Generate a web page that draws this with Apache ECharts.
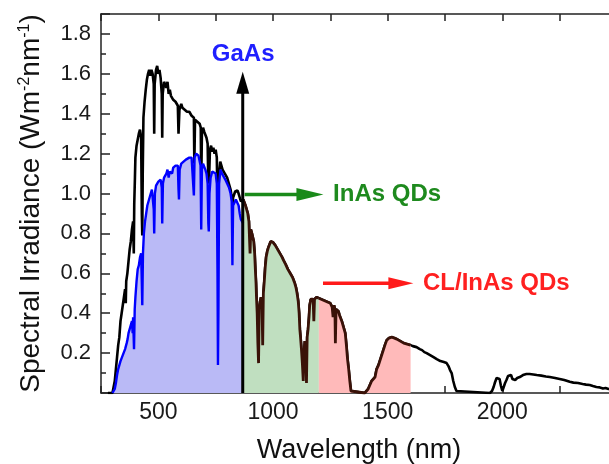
<!DOCTYPE html>
<html>
<head>
<meta charset="utf-8">
<script src="https://cdn.jsdelivr.net/npm/echarts@6.0.0/dist/echarts.min.js"></script>
<style>
html, body { margin: 0; padding: 0; background: #fff; }
#chart { width: 609px; height: 464px; }
</style>
</head>
<body>
<div id="chart"></div>
<script>
// tick labels
const xLabels = [500, 1000, 1500, 2000];
const yLabels = [0.2, 0.4, 0.6, 0.8, 1.0, 1.2, 1.4, 1.6, 1.8];

// band edges (nm)
const gaasEdge = 870;
const inasEdge = 1200;
const clEdge = 1600;

// black spectrum [nm, W m-2 nm-1]
const blackSpectrum = [
    [280,0],[300,0],[305,0.01],[310,0.06],[315,0.12],[320,0.18],[325,0.24],[330,0.28],[335,0.36],[340,0.40],
    [345,0.44],[350,0.48],[355,0.52],[358,0.45],[360,0.56],[365,0.60],[370,0.66],[375,0.72],[380,0.76],[385,0.82],
    [390,0.86],[393,0.70],[395,0.95],[398,1.08],[400,1.18],[405,1.24],[410,1.27],[415,1.30],[420,1.32],[425,1.28],
    [428,0.90],[430,0.79],[432,1.10],[435,1.38],[440,1.46],[445,1.52],[450,1.57],[455,1.60],[460,1.62],[465,1.59],
    [470,1.62],[475,1.60],[480,1.55],[482,1.30],[484,1.55],[490,1.62],[495,1.64],[500,1.60],[505,1.62],[510,1.58],
    [515,1.50],[517,1.28],[519,1.50],[525,1.56],[530,1.55],[535,1.53],[540,1.56],[545,1.50],[550,1.52],[555,1.49],
    [560,1.50],[565,1.47],[570,1.48],[575,1.46],[580,1.45],[585,1.44],[588,1.30],[590,1.29],[592,1.42],[600,1.45],
    [605,1.43],[610,1.44],[615,1.42],[620,1.43],[625,1.41],[630,1.40],[635,1.41],[640,1.40],[645,1.39],[650,1.40],
    [655,1.38],[657,1.15],[660,1.37],[665,1.38],[670,1.36],[675,1.37],[680,1.35],[685,1.33],[687,1.05],[690,1.30],
    [695,1.33],[700,1.31],[705,1.30],[710,1.28],[715,1.25],[718,1.05],[722,1.10],[725,1.22],[730,1.24],[735,1.21],
    [740,1.23],[745,1.20],[750,1.22],[755,1.18],[758,0.95],[762,0.80],[765,1.10],[770,1.16],[775,1.14],[780,1.12],
    [785,1.13],[790,1.10],[795,1.11],[800,1.08],[805,1.06],[810,1.04],[815,1.02],[820,0.98],[823,0.92],[826,0.98],
    [830,0.99],[835,1.01],[840,1.02],[845,1.015],[850,1.00],[855,0.98],[860,0.96],[865,0.95],[870,0.97],
    [875,0.96],[880,0.94],[885,0.92],[890,0.90],[895,0.86],[898,0.76],[900,0.70],[903,0.82],[908,0.80],[912,0.79],
    [916,0.76],[920,0.70],[923,0.62],[926,0.55],[928,0.48],[931,0.40],[934,0.25],[937,0.15],[940,0.42],[944,0.46],
    [948,0.48],[952,0.45],[955,0.24],[958,0.50],[962,0.56],[966,0.63],[970,0.68],[975,0.71],[980,0.73],[985,0.74],
    [990,0.76],[995,0.76],[1000,0.755],[1005,0.75],[1010,0.74],[1018,0.73],[1025,0.71],[1032,0.70],[1040,0.68],[1046,0.665],
    [1055,0.645],[1065,0.62],[1075,0.60],[1085,0.58],[1095,0.55],[1100,0.53],[1105,0.50],[1110,0.46],[1114,0.40],[1117,0.32],
    [1120,0.28],[1124,0.22],[1128,0.15],[1132,0.06],[1135,0.20],[1139,0.26],[1143,0.22],[1146,0.05],[1149,0.28],[1153,0.32],
    [1157,0.38],[1160,0.44],[1165,0.47],[1170,0.48],[1175,0.47],[1178,0.36],[1181,0.47],[1190,0.48],[1200,0.475],[1210,0.47],
    [1220,0.465],[1230,0.46],[1240,0.455],[1250,0.45],[1258,0.43],[1262,0.38],[1266,0.44],[1270,0.42],[1272,0.25],[1275,0.42],
    [1280,0.43],[1285,0.41],[1290,0.39],[1295,0.375],[1300,0.36],[1305,0.34],[1310,0.32],[1315,0.30],[1320,0.24],[1325,0.17],
    [1330,0.12],[1335,0.06],[1340,0.01],[1345,0],[1400,0],[1408,0.005],[1415,0.02],[1423,0.03],[1430,0.06],[1437,0.05],
    [1445,0.08],[1452,0.12],[1460,0.14],[1467,0.165],[1474,0.19],[1481,0.215],[1488,0.24],[1496,0.265],[1505,0.275],[1518,0.28],
    [1530,0.275],[1540,0.27],[1547,0.27],[1555,0.26],[1562,0.265],[1570,0.25],[1576,0.25],[1585,0.245],[1592,0.24],[1600,0.24],
    [1610,0.235],[1626,0.23],[1640,0.22],[1650,0.215],[1660,0.205],[1670,0.20],[1685,0.19],[1700,0.18],[1714,0.17],[1730,0.16],
    [1745,0.155],[1757,0.15],[1765,0.135],[1772,0.115],[1779,0.10],[1786,0.06],[1793,0.03],[1800,0.01],[1808,0],[1946,0],
    [1955,0.01],[1962,0.03],[1967,0.05],[1975,0.075],[1982,0.08],[1988,0.07],[1994,0.035],[2000,0.01],[2005,0.02],[2012,0.05],
    [2018,0.065],[2025,0.085],[2032,0.095],[2038,0.09],[2044,0.07],[2050,0.06],[2056,0.065],[2065,0.075],[2076,0.08],[2090,0.09],
    [2105,0.095],[2119,0.095],[2135,0.093],[2150,0.09],[2170,0.087],[2190,0.083],[2207,0.08],[2230,0.075],[2250,0.07],[2270,0.065],
    [2294,0.056],[2310,0.052],[2330,0.05],[2350,0.045],[2365,0.042],[2381,0.04],[2395,0.035],[2410,0.03],[2425,0.028],[2439,0.023],
    [2450,0.025],[2463,0.02],[2480,0.018],[2500,0.015]
];

// blue spectrum, up to the GaAs edge
const blueSpectrum = [
    [300,0],[305,0],[310,0.02],[315,0.05],[320,0.09],[325,0.12],[330,0.14],[335,0.16],[340,0.17],[345,0.19],
    [350,0.20],[355,0.22],[358,0.21],[362,0.25],[366,0.27],[370,0.30],[375,0.31],[380,0.34],[385,0.36],[388,0.30],
    [390,0.38],[394,0.22],[397,0.42],[400,0.48],[405,0.56],[410,0.62],[415,0.64],[420,0.68],[425,0.70],[428,0.55],
    [430,0.44],[433,0.70],[437,0.80],[442,0.86],[447,0.90],[452,0.94],[457,0.96],[462,0.98],[467,1.00],[472,1.02],
    [477,1.01],[480,0.92],[482,0.80],[485,1.00],[490,1.04],[495,1.05],[500,1.06],[505,1.05],[510,1.07],[515,1.03],
    [517,0.85],[520,1.05],[525,1.08],[530,1.09],[535,1.10],[540,1.12],[545,1.08],[550,1.11],[555,1.12],[560,1.10],
    [565,1.13],[570,1.12],[575,1.14],[580,1.13],[585,1.14],[588,1.02],[590,0.97],[593,1.12],[600,1.15],[610,1.16],
    [620,1.17],[626,1.17],[635,1.18],[645,1.18],[652,1.17],[655,0.99],[658,1.18],[665,1.20],[670,1.21],[675,1.19],
    [680,1.18],[684,1.14],[687,0.82],[690,1.12],[695,1.15],[700,1.14],[705,1.12],[710,1.10],[715,1.05],[718,0.85],
    [720,0.81],[723,1.00],[728,1.08],[735,1.11],[742,1.12],[750,1.10],[755,1.05],[758,0.60],[760,0.14],[762,0.40],
    [765,1.05],[771,1.12],[778,1.10],[785,1.09],[792,1.07],[800,1.06],[808,1.03],[815,1.00],[820,0.96],[823,0.64],
    [826,0.94],[832,0.95],[838,0.97],[844,0.97],[850,0.94],[855,0.90],[860,0.87],[865,0.86],[870,0.85]
];

// annotations: [label, x, y]
const gaasLabel = ['GaAs', 870, 1.70];
const inasLabel = ['InAs QDs', 1262, 0.995];
const clLabel = ['CL/InAs QDs', 1654, 0.55];
// arrows: [x1, y1, x2, y2] tip at x2,y2
const gaasArrow = [868, 0, 868, 1.61];
const inasArrow = [876, 0.995, 1220, 0.995];
const clArrow = [1218, 0.55, 1612, 0.55];

const inasPart = blackSpectrum.filter(p => p[0] >= gaasEdge && p[0] <= inasEdge);
const clPart = blackSpectrum.filter(p => p[0] >= inasEdge && p[0] <= clEdge);

const FONT = '"Liberation Sans", Arial, sans-serif';
const axisCol = '#222';

let myChart = echarts.init(document.getElementById('chart'));

let option = {
    animation: false,
    backgroundColor: '#fff',
    textStyle: { fontFamily: FONT },
    grid: { left: 101, top: 14, right: -8, bottom: 71, outerBoundsMode: 'none' },
    xAxis: [
        {
            type: 'value', min: 250, max: 2500, interval: 250,
            name: 'Wavelength (nm)', nameLocation: 'middle', nameGap: 44,
            nameTextStyle: { fontSize: 27, color: '#111', fontFamily: FONT },
            axisLine: { lineStyle: { color: axisCol, width: 1.5 } },
            axisTick: { inside: true, length: 7, lineStyle: { color: axisCol, width: 1.5 } },
            axisLabel: {
                interval: 0, fontSize: 23, color: '#1a1a1a', margin: 8, fontFamily: FONT,
                formatter: v => xLabels.includes(v) ? String(v) : ''
            },
            splitLine: { show: false }
        },
        {
            type: 'value', position: 'top', min: 250, max: 2500, interval: 250,
            axisLine: { lineStyle: { color: axisCol, width: 1.5 } },
            axisTick: { inside: true, length: 7, lineStyle: { color: axisCol, width: 1.5 } },
            axisLabel: { show: false },
            splitLine: { show: false }
        }
    ],
    yAxis: {
        type: 'value', min: 0, max: 1.9, interval: 0.2,
        name: 'Spectral Irradiance (Wm{sup|-2}nm{sup|-1})',
        nameLocation: 'middle', nameGap: 55,
        nameTextStyle: {
            fontSize: 28, color: '#111', fontFamily: FONT,
            rich: { sup: { fontSize: 16, fontFamily: FONT, color: '#111', padding: [0, 0, 13, 0] } }
        },
        axisLine: { show: true, lineStyle: { color: axisCol, width: 1.5 } },
        axisTick: { inside: true, length: 9, lineStyle: { color: axisCol, width: 1.5 } },
        minorTick: { show: true, splitNumber: 2, length: 5, lineStyle: { color: axisCol, width: 1.5 } },
        axisLabel: {
            fontSize: 22, color: '#1a1a1a', margin: 10, fontFamily: FONT,
            formatter: v => yLabels.some(t => Math.abs(t - v) < 1e-6) ? v.toFixed(1) : ''
        },
        splitLine: { show: false }
    },
    series: [
        {
            name: 'black', type: 'line', data: blackSpectrum, showSymbol: false, z: 2,
            lineStyle: { color: '#000', width: 2.6 }
        },
        {
            name: 'GaAs', type: 'line', data: blueSpectrum, showSymbol: false, z: 3,
            lineStyle: { color: '#0000ff', width: 2.4 },
            areaStyle: { color: '#babaf6', opacity: 1 }
        },
        {
            name: 'InAs QDs', type: 'line', data: inasPart, showSymbol: false, z: 3,
            lineStyle: { color: '#3a1208', width: 2.8 },
            areaStyle: { color: '#c0dfc0', opacity: 1 }
        },
        {
            name: 'CL/InAs QDs', type: 'line', data: clPart, showSymbol: false, z: 3,
            lineStyle: { color: '#3a1208', width: 2.8 },
            areaStyle: { color: '#ffbaba', opacity: 1 }
        }
    ]
};
myChart.setOption(option);

// arrows and labels placed through the chart's own scales
function px(x, y) {
    return myChart.convertToPixel({ xAxisIndex: 0, yAxisIndex: 0 }, [x, y]);
}
function arrow(a, color, lw, headLen, headW) {
    let s = px(a[0], a[1]);
    let t = px(a[2], a[3]);
    let dx = t[0] - s[0], dy = t[1] - s[1];
    let len = Math.sqrt(dx * dx + dy * dy);
    let ux = dx / len, uy = dy / len;
    let bx = t[0] - ux * headLen, by = t[1] - uy * headLen;
    return [
        { type: 'line', z: 100, shape: { x1: s[0], y1: s[1], x2: bx + ux, y2: by + uy },
          style: { stroke: color, lineWidth: lw } },
        { type: 'polygon', z: 100, shape: { points: [
            [t[0], t[1]],
            [bx - uy * headW / 2, by + ux * headW / 2],
            [bx + uy * headW / 2, by - ux * headW / 2]
        ] }, style: { fill: color } }
    ];
}
function label(l, color, align) {
    let p = px(l[1], l[2]);
    return { type: 'text', z: 100, x: p[0], y: p[1], style: {
        text: l[0], fill: color, fontSize: 24, fontWeight: 'bold', fontFamily: FONT,
        align: align, verticalAlign: 'middle'
    } };
}
myChart.setOption({
    graphic: [].concat(
        arrow(gaasArrow, '#000', 3, 22, 13),
        arrow(inasArrow, '#1a8a1a', 3.5, 27, 13),
        arrow(clArrow, '#ff1a1a', 3.5, 25, 12),
        [label(gaasLabel, '#1f1fff', 'center'),
         label(inasLabel, '#1e8a1e', 'left'),
         label(clLabel, '#ff2020', 'left')]
    )
});
</script>
</body>
</html>
